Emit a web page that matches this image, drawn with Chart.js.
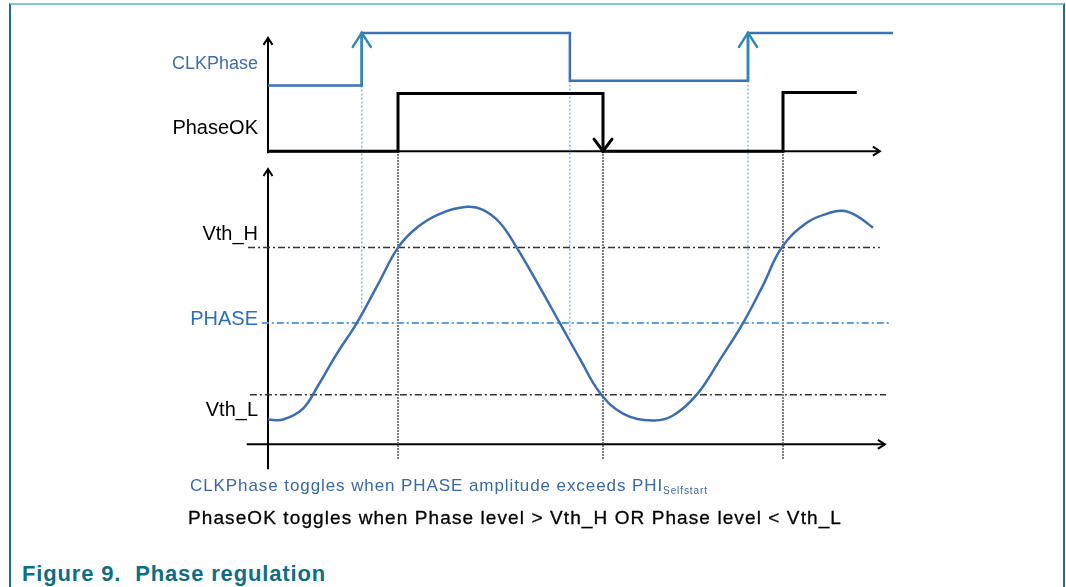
<!DOCTYPE html>
<html lang="en">
<head>
<meta charset="UTF-8" />
<title>Phase regulation</title>
<script src="https://cdn.jsdelivr.net/npm/chart.js"></script>
<style>
  body { margin: 0; background: #fff; font-family: "Liberation Sans", Arial, sans-serif; }
  #page { position: relative; width: 1066px; height: 587px; overflow: hidden; }
  #frame { position: absolute; left: 9px; top: 3px; width: 1052px; height: 620px;
           border-left: 2px solid #17718b; border-right: 2px solid #17718b; border-top: 2px solid #86c4ce; }
  #chart { position: absolute; left: 0; top: 0; }
  .note { position: absolute; white-space: nowrap; line-height: 1; }
  #note1 { left: 190px; top: 477px; font-size: 17px; color: #3a68a3; }
  #note1 sub { font-size: 10px; vertical-align: -3px; line-height: 0; }
  #note2 { left: 188px; top: 508px; font-size: 19px; color: #000; -webkit-text-stroke: 0.3px #000; }
  #caption { left: 22px; top: 563px; font-size: 22px; font-weight: bold; color: #0e6e86; }
</style>
</head>
<body>
<div id="page">
  <div id="frame"></div>
  <canvas id="chart" width="1066" height="490"></canvas>
  <div class="note fit" id="note1" data-w="518">CLKPhase toggles when PHASE amplitude exceeds PHI<sub>Selfstart</sub></div>
  <div class="note fit" id="note2" data-w="654">PhaseOK toggles when Phase level &gt; Vth_H OR Phase level &lt; Vth_L</div>
  <div class="note fit" id="caption" data-w="304">Figure 9.&nbsp; Phase regulation</div>
</div>

<script>
  // time runs 0..100 across the diagram, levels share one vertical scale
  const clkTimes = [0, 15.0, 48.3, 76.8, 100];
  const clkLevels = [36.1, 41.4, 36.6, 41.4, 41.4];
  const okTimes = [0, 20.8, 53.6, 82.4, 94.2];
  const okLevels = [29.5, 35.3, 29.5, 35.4, 35.4];

  const phaseTimes = [0, 2.4, 5.6, 8.0, 11.0, 14.2, 17.6, 20.8, 23.8, 27.5, 31.8, 34.4, 37.1, 39.8, 43.5,
    46.7, 50.0, 53.1, 56.8, 61.6, 64.8, 68.6, 72.3, 76.0, 79.2, 82.2, 86.2, 89.9, 92.0, 94.2, 96.8];
  const phaseValues = [2.5, 2.5, 3.6, 5.9, 9.1, 12.2, 16.1, 19.8, 21.8, 23.2, 23.9, 23.6, 22.3, 19.8, 15.8,
    12.2, 8.5, 5.2, 3.1, 2.4, 2.9, 5.0, 8.5, 12.2, 16.0, 19.8, 22.3, 23.3, 23.5, 23.0, 21.8];

  const levelNames = ['Vth_H', 'PHASE', 'Vth_L'];
  const levelValues = [19.8, 12.2, 5.0];
  const levelFrom = [-3.2, -1.0, -2.9];
  const levelTo = [97.9, 99.5, 98.9];

  const clkGuideEnds = [13.7, 10.8, 14.0];
  const okGuideEnd = -1.5;

  const labelNames = ['CLKPhase', 'PhaseOK', 'Vth_H', 'PHASE', 'Vth_L'];
  const labelValues = [38.3, 31.75, 21.1, 12.6, 3.4];
  const labelColors = ['#3e6fa9', '#000', '#000', '#2a6ebf', '#000'];
  const labelSizes = [18, 20, 20, 20, 20];

  const pts = (xs, ys) => xs.map((x, i) => ({ x, y: ys[i] }));
  const base = { pointRadius: 0, clip: false, fill: false };

  const datasets = [
    { ...base, label: 'CLKPhase', data: pts(clkTimes, clkLevels), stepped: 'before', borderColor: '#3a72b6', borderWidth: 2.5 },
    { ...base, label: 'PhaseOK', data: pts(okTimes, okLevels), stepped: 'before', borderColor: '#000', borderWidth: 3 },
    { ...base, label: 'Phase', data: pts(phaseTimes, phaseValues), tension: 0.4, borderColor: '#3a6db3', borderWidth: 2.5 }
  ];

  levelNames.forEach((name, i) => {
    datasets.push({ ...base, label: name, data: [{ x: levelFrom[i], y: levelValues[i] }, { x: levelTo[i], y: levelValues[i] }],
      borderColor: name === 'PHASE' ? '#5b9fe2' : '#333', borderWidth: name === 'PHASE' ? 2 : 1.5, borderDash: [7, 3, 2, 3] });
  });

  for (let i = 1; i < clkTimes.length - 1; i++) {
    datasets.push({ ...base, label: 'clk guide', data: [{ x: clkTimes[i], y: Math.min(clkLevels[i - 1], clkLevels[i]) }, { x: clkTimes[i], y: clkGuideEnds[i - 1] }],
      borderColor: '#6ea4ec', borderWidth: 1.2, borderDash: [2, 2] });
  }
  for (let i = 1; i < okTimes.length - 1; i++) {
    datasets.push({ ...base, label: 'ok guide', data: [{ x: okTimes[i], y: Math.min(okLevels[i - 1], okLevels[i]) }, { x: okTimes[i], y: okGuideEnd }],
      borderColor: '#555', borderWidth: 2, borderDash: [1.5, 1.5] });
  }

  function arrowHead(ctx, tipX, tipY, dx, dy, len, half) {
    // dx, dy = unit direction the arrow points to
    ctx.beginPath();
    ctx.moveTo(tipX - dx * len - dy * half, tipY - dy * len + dx * half);
    ctx.lineTo(tipX, tipY);
    ctx.lineTo(tipX - dx * len + dy * half, tipY - dy * len - dx * half);
    ctx.stroke();
  }

  function axisLine(ctx, x1, y1, x2, y2) {
    ctx.beginPath();
    ctx.moveTo(x1, y1);
    ctx.lineTo(x2, y2);
    ctx.stroke();
    const l = Math.hypot(x2 - x1, y2 - y1);
    arrowHead(ctx, x2, y2, (x2 - x1) / l, (y2 - y1) / l, 7, 4.5);
  }

  const axesPlugin = {
    id: 'timingAxes',
    beforeDatasetsDraw(chart) {
      const { ctx, scales: { x, y } } = chart;
      const X = v => x.getPixelForValue(v), Y = v => y.getPixelForValue(v);
      ctx.save();
      ctx.strokeStyle = '#000';
      ctx.lineWidth = 2;
      axisLine(ctx, X(0), Y(29.3), X(0), Y(40.9));
      axisLine(ctx, X(0), Y(okLevels[0]), X(97.9), Y(okLevels[0]));
      axisLine(ctx, X(0), Y(-2.5), X(0), Y(27.7));
      axisLine(ctx, X(-3.4), Y(0), X(98.7), Y(0));
      ctx.restore();
    },
    afterDatasetsDraw(chart) {
      const { ctx, scales: { x, y } } = chart;
      const X = v => x.getPixelForValue(v), Y = v => y.getPixelForValue(v);
      ctx.save();
      ctx.lineCap = 'round';
      // rising CLKPhase edges get an up arrow
      ctx.strokeStyle = '#2f88b5';
      ctx.lineWidth = 2.5;
      for (let i = 1; i < clkTimes.length; i++) {
        if (clkLevels[i] > clkLevels[i - 1]) {
          ctx.beginPath();
          ctx.moveTo(X(clkTimes[i]), Y(clkLevels[i - 1]));
          ctx.lineTo(X(clkTimes[i]), Y(clkLevels[i]));
          ctx.stroke();
          arrowHead(ctx, X(clkTimes[i]), Y(clkLevels[i]), 0, -1, 14, 9);
        }
      }
      // falling PhaseOK edges get a down arrow
      ctx.strokeStyle = '#000';
      ctx.lineWidth = 3;
      for (let i = 1; i < okTimes.length; i++) {
        if (okLevels[i] < okLevels[i - 1]) {
          arrowHead(ctx, X(okTimes[i]), Y(okLevels[i]), 0, 1, 12, 9);
        }
      }
      ctx.restore();
    }
  };

  new Chart(document.getElementById('chart'), {
    type: 'line',
    data: { datasets },
    options: {
      responsive: false,
      animation: false,
      events: [],
      layout: { padding: { left: 0, right: 173, top: 20, bottom: 15 } },
      plugins: { legend: { display: false }, tooltip: { enabled: false } },
      scales: {
        x: { type: 'linear', min: 0, max: 100, display: false },
        y: {
          type: 'linear', min: -2.5, max: 42.5,
          grid: { display: false, drawTicks: false },
          border: { display: false },
          afterFit: s => { s.width = 268; },
          afterBuildTicks: s => { s.ticks = labelValues.map(v => ({ value: v })); },
          ticks: {
            padding: 10,
            autoSkip: false,
            callback: (v, i) => labelNames[i],
            color: c => labelColors[c.index],
            font: c => ({ family: '"Liberation Sans", Arial, sans-serif', size: labelSizes[c.index] })
          }
        }
      }
    },
    plugins: [axesPlugin]
  });

  // stretch the notes to the widths they take in the figure
  document.querySelectorAll('.fit').forEach(el => {
    const w = el.getBoundingClientRect().width;
    const n = el.textContent.length;
    el.style.letterSpacing = ((+el.dataset.w - w) / n) + 'px';
  });
</script>
</body>
</html>
